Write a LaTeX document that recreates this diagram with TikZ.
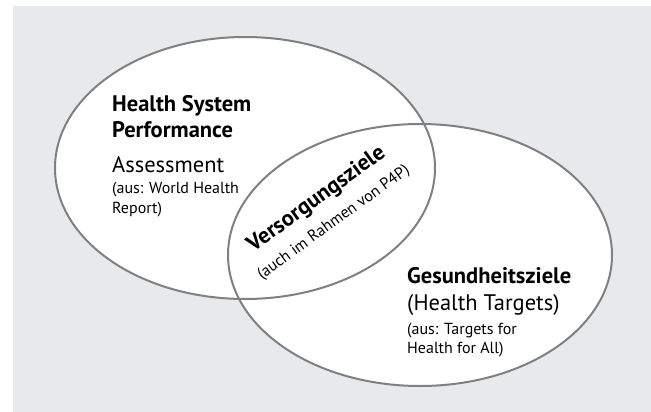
\documentclass[tikz,border=0pt]{standalone}
\usepackage{fontspec}
\setmainfont{PT Sans}
\definecolor{bggray}{RGB}{232,233,235}
\definecolor{linegray}{RGB}{128,128,128}
\begin{document}
\begin{tikzpicture}[x=1pt,y=-1pt,
  outline/.style={draw=linegray,line width=2pt},
  bigbold/.style={inner sep=0pt,anchor=base west,font=\fontsize{22.5}{26}\selectfont\bfseries},
  bigreg/.style={inner sep=0pt,anchor=base west,font=\fontsize{22.5}{26}\selectfont},
  smallreg/.style={inner sep=0pt,anchor=base west,font=\fontsize{16}{19}\selectfont}]
\useasboundingbox (0,0) rectangle (651,412);
\fill[bggray] (13,6) rectangle (651,412);
% ellipses: fill both, then outlines
\fill[white] (245,168) ellipse [x radius=190, y radius=131];
\fill[white] (420,255) ellipse [x radius=192, y radius=131];
\draw[outline] (245,168) ellipse [x radius=190, y radius=131];
\draw[outline] (420,255) ellipse [x radius=192, y radius=131];
% left texts
\node[bigbold] (h1) at (112,111) {Health System};
\node[bigbold] (h2) at (112,137) {Performance};
\node[bigreg] (h3) at (112,172) {Assessment};
\node[smallreg] (h4) at (112,193) {(aus: World Health};
\node[smallreg] (h5) at (112,213) {Report)};
% right texts
\node[bigbold] (g1) at (407,283) {Gesundheitsziele};
\node[bigreg] (g2) at (407,310) {(Health Targets)};
\node[smallreg] (g3) at (407,334) {(aus: Targets for};
\node[smallreg] (g4) at (407,353) {Health for All)};
% center rotated texts
\node[bigbold,anchor=base,rotate=36] (v1) at (320,204) {Versorgungsziele};
\node[smallreg,anchor=base,rotate=36] (v2) at (336,226) {(auch im Rahmen von P4P)};
\end{tikzpicture}
\end{document}
